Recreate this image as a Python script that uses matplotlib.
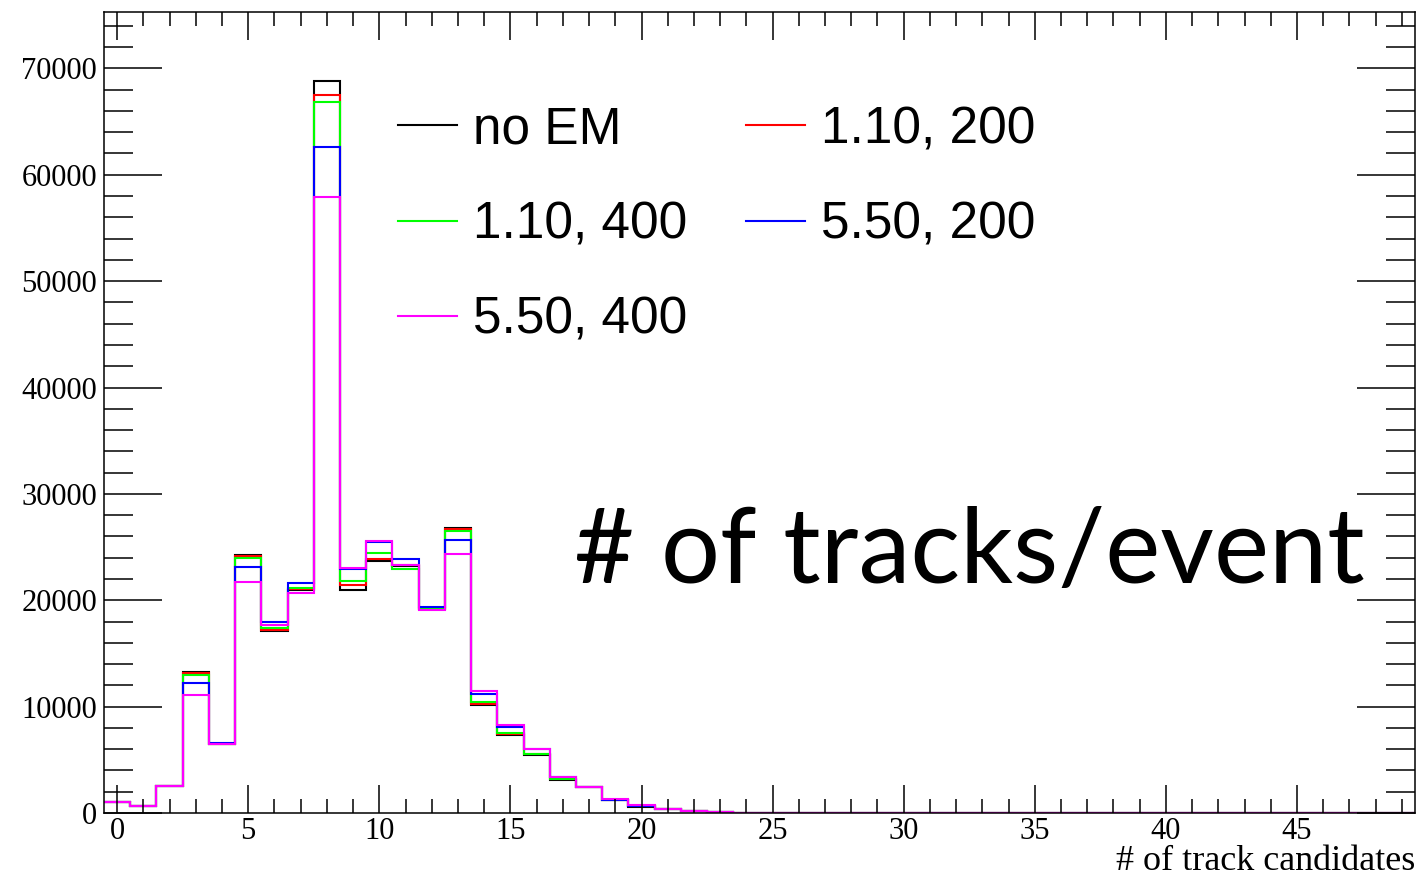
import numpy as np
import matplotlib
matplotlib.use('Agg')
import matplotlib.pyplot as plt
from matplotlib.ticker import MultipleLocator

# bin contents, bins of width 1 centred on 0..49
no_em = [1000, 700, 2500, 13300, 6500, 24300, 17100, 21000, 68850, 21000,
         23650, 23200, 19150, 26800, 10150, 7300, 5450, 3100, 2400, 1200,
         600, 350, 150, 60, 20, 10] + [0] * 24
r110_200 = [1000, 700, 2500, 13200, 6500, 24200, 17250, 21100, 67540, 21450,
            23900, 23300, 19150, 26700, 10250, 7400, 5500, 3150, 2420, 1220,
            620, 360, 150, 60, 20, 10] + [0] * 24
r110_400 = [1000, 700, 2500, 13000, 6500, 24000, 17420, 21170, 66850, 21770,
            24430, 22930, 19230, 26470, 10430, 7550, 5540, 3150, 2430, 1230,
            650, 370, 160, 60, 20, 10] + [0] * 24
r550_200 = [1000, 700, 2550, 12180, 6550, 23150, 18000, 21580, 62620, 22950,
            25500, 23870, 19390, 25660, 11180, 8080, 5980, 3350, 2470, 1260,
            700, 380, 170, 70, 25, 10] + [0] * 24
r550_400 = [1000, 700, 2550, 11120, 6500, 21740, 17630, 20700, 57950, 23030,
            25560, 23300, 19040, 24370, 11430, 8270, 5980, 3380, 2480, 1280,
            720, 390, 170, 70, 25, 10] + [0] * 24

labels = ['no EM', '1.10, 200', '1.10, 400', '5.50, 200', '5.50, 400']
colors = ['#000000', '#ff0000', '#00ff00', '#0000ff', '#ff00ff']
series = [no_em, r110_200, r110_400, r550_200, r550_400]

edges = np.arange(-0.5, 50.5, 1.0)

W, H = 1420, 877
fig = plt.figure(figsize=(W / 100, H / 100), dpi=100)
ax = fig.add_axes([104 / W, 1 - 813 / H, (1415 - 104) / W, (813 - 12) / H])

for vals, col, lab in zip(series, colors, labels):
    ax.stairs(vals, edges, color=col, linewidth=1.5, baseline=None, label=lab)

ax.set_xlim(-0.5, 49.5)
ax.set_ylim(0, 75300)

ax.xaxis.set_major_locator(MultipleLocator(5))
ax.xaxis.set_minor_locator(MultipleLocator(1))
ax.yaxis.set_major_locator(MultipleLocator(10000))
ax.yaxis.set_minor_locator(MultipleLocator(2000))

ax.tick_params(axis='both', which='both', direction='in', top=True, right=True,
               width=1.1, labelsize=22, labelfontfamily='Liberation Serif')
ax.tick_params(axis='x', which='major', length=20, pad=3)
ax.tick_params(axis='x', which='minor', length=10)
ax.tick_params(axis='y', which='major', length=42, pad=5)
ax.tick_params(axis='y', which='minor', length=21)
for s in ax.spines.values():
    s.set_linewidth(1.1)

# legend, filled column by column
order = ['no EM', '1.10, 400', '5.50, 400', '1.10, 200', '5.50, 200']
leg_lines = [plt.Line2D([], [], color=colors[labels.index(k)], linewidth=1.5) for k in order]
fig.legend(leg_lines, order, ncol=2, frameon=False, loc='upper left',
           bbox_to_anchor=(352 / W, 1 - 59 / H),
           prop={'family': 'Liberation Sans', 'size': 37},
           handlelength=1.15, handletextpad=0.3, columnspacing=1.15, labelspacing=0.9)

fig.text(1365 / W, 1 - 583 / H, '# of tracks/event', ha='right', va='baseline',
         fontsize=75, fontfamily='Lato')
fig.text(1415 / W, 1 - 870 / H, '# of track candidates', ha='right', va='baseline',
         fontsize=26, fontfamily='Liberation Serif')

fig.savefig('out.png', dpi=100)
